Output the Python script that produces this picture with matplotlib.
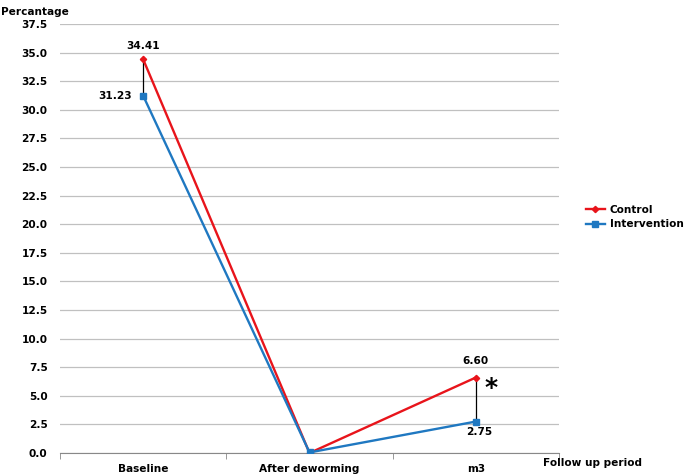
import numpy as np
import matplotlib.pyplot as plt

categories = ['Baseline', 'After deworming', 'm3']
control = [34.41, 0.0, 6.60]
intervention = [31.23, 0.05, 2.75]
yticks = np.arange(0, 37.6, 2.5)

plt.rcParams['font.family'] = 'DejaVu Sans'
plt.rcParams['font.weight'] = 'bold'
fs = 7.6

fig = plt.figure(figsize=(6.85, 4.76), dpi=100)
ax = fig.add_axes([0.0876, 0.0483, 0.7285, 0.9013])

x = np.arange(len(categories))
ax.plot(x, control, color='#e8141b', marker='D', markersize=3.2, lw=1.7, label='Control', zorder=3)
ax.plot(x, intervention, color='#1f78c1', marker='s', markersize=4.5, lw=1.7, label='Intervention', zorder=3)

# black connectors between groups
for i in [0, 2]:
    ax.plot([x[i], x[i]], [intervention[i], control[i]], color='black', lw=0.9, zorder=2)

ax.text(x[0], control[0] + 0.7, '%.2f' % control[0], ha='center', va='bottom', fontsize=fs, fontweight='bold')
ax.text(x[0] - 0.07, intervention[0], '%.2f' % intervention[0], ha='right', va='center', fontsize=fs, fontweight='bold')
ax.text(x[2], control[2] + 1.0, '%.2f' % control[2], ha='center', va='bottom', fontsize=fs, fontweight='bold')
ax.text(x[2] + 0.02, intervention[2] - 0.5, '%.2f' % intervention[2], ha='center', va='top', fontsize=fs, fontweight='bold')
ax.text(x[2] + 0.09, (control[2] + intervention[2]) / 2 + 1.0, '*', ha='center', va='center', fontsize=18, fontweight='bold')

ax.set_xlim(-0.5, 2.5)
ax.set_ylim(0, 37.5)
ax.set_yticks(yticks)
ax.set_yticklabels(['%.1f' % v for v in yticks], fontsize=fs, fontweight='bold')
ax.set_xticks(x)
ax.set_xticklabels(categories, fontsize=fs, fontweight='bold')
ax.set_xticks([-0.5, 0.5, 1.5, 2.5], minor=True)
ax.tick_params(axis='x', which='major', length=0, pad=8)
ax.tick_params(axis='x', which='minor', length=4, color='#888888')
ax.tick_params(axis='y', length=0, pad=9)
ax.yaxis.grid(True, color='#c0c0c0', lw=0.9)
ax.set_axisbelow(True)
for s in ['top', 'right', 'left']:
    ax.spines[s].set_visible(False)
ax.spines['bottom'].set_color('#888888')

fig.text(0.002, 0.985, 'Percantage', ha='left', va='top', fontsize=fs, fontweight='bold')
fig.text(0.792, 0.028, 'Follow up period', ha='left', va='center', fontsize=fs, fontweight='bold')

ax.legend(loc='center left', bbox_to_anchor=(1.045, 0.55), frameon=False, fontsize=fs,
          handlelength=1.8, handletextpad=0.5, borderaxespad=0, labelspacing=0.45)

plt.savefig('out.png', dpi=100)
